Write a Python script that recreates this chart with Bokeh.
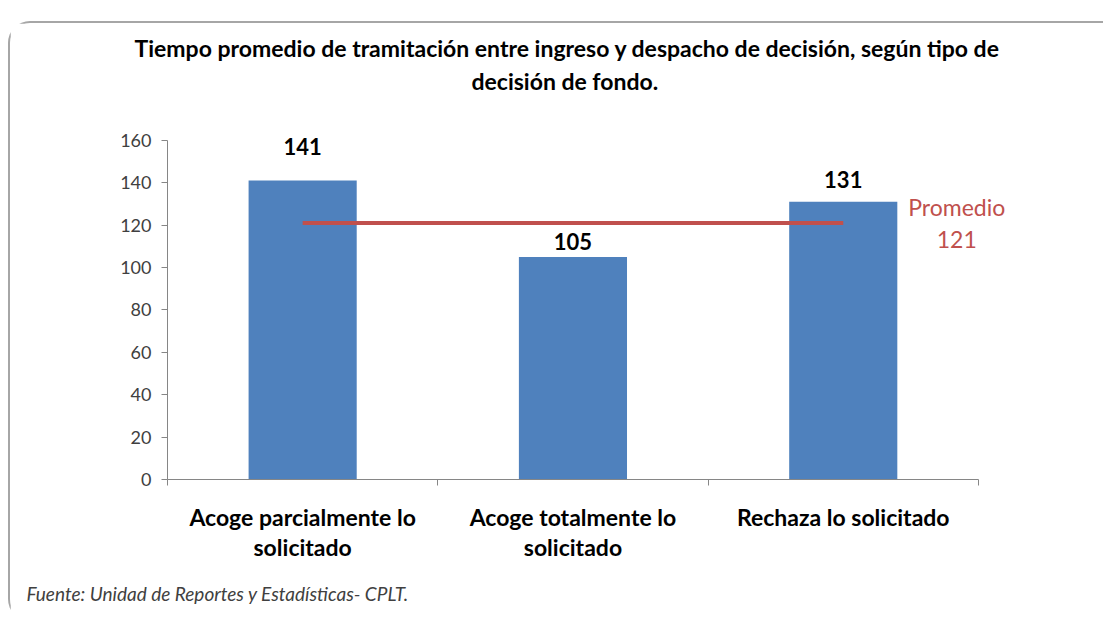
from bokeh.plotting import figure
from bokeh.models import (Label, LinearAxis, Range1d, FixedTicker, ColumnDataSource, Title)
from bokeh.embed import file_html
from bokeh.resources import INLINE

# ---- data ----
categories = ["Acoge parcialmente lo\nsolicitado", "Acoge totalmente lo\nsolicitado", "Rechaza lo solicitado"]
values = [141, 105, 131]
promedio = 121
y_ticks = [0, 20, 40, 60, 80, 100, 120, 140, 160]
title_lines = ["Tiempo promedio de tramitación entre ingreso y  despacho de decisión, según tipo de",
               "decisión de fondo."]
fuente = "Fuente: Unidad de Reportes y Estadísticas- CPLT."
promedio_label = "Promedio"

# ---- style ----
FONT = "Lato"
BAR = "#4F81BD"
RED = "#C0504D"
AXIS = "#868686"
label_offsets = [26, 7, 14]  # px above bar top, per bar

n = len(categories)
pos = list(range(1, n + 1))            # category slots
bounds = [k + 0.5 for k in range(0, n + 1)]
Y_AXIS_MAX = 160
Y_VIEW_MAX = 195.3                      # room above the axis for the 2nd title line

p = figure(width=1095, height=600,
           x_range=Range1d(0.5, n + 0.948), y_range=Range1d(0, Y_VIEW_MAX),
           output_backend="svg", toolbar_location=None,
           x_axis_location=None, y_axis_location=None,
           min_border_left=157, min_border_right=6,
           min_border_top=42, min_border_bottom=144)
p.margin = (21, 0, 0, 8)
p.styles = {"border-top": "2px solid #a6a6a6", "border-left": "2px solid #a6a6a6",
            "border-top-left-radius": "22px", "border-bottom-left-radius": "22px"}
p.outline_line_color = None
p.background_fill_color = "white"
p.border_fill_color = "white"

src = ColumnDataSource(dict(x=pos, val=values))
p.vbar(x="x", top="val", width=0.4, source=src, fill_color=BAR, line_color=None)

p.line(x=[pos[0], pos[-1]], y=[promedio, promedio], line_color=RED, line_width=4)

# y axis
yax = LinearAxis(ticker=FixedTicker(ticks=y_ticks), bounds=(0, Y_AXIS_MAX))
yax.axis_line_color = AXIS
yax.major_tick_line_color = AXIS
yax.major_tick_out = 6
yax.major_tick_in = 0
yax.minor_tick_line_color = None
yax.major_label_text_font = FONT
yax.major_label_text_font_size = "18px"
yax.major_label_text_color = "#404040"
yax.major_label_standoff = 10
p.add_layout(yax, "left")

# x axis: labels at category centres, ticks on category boundaries
cax = LinearAxis(ticker=FixedTicker(ticks=pos, minor_ticks=bounds),
                 major_label_overrides={k: c for k, c in zip(pos, categories)},
                 bounds=(bounds[0], bounds[-1]))
cax.axis_line_color = AXIS
cax.major_tick_line_color = None
cax.major_tick_out = 0
cax.major_tick_in = 0
cax.minor_tick_line_color = AXIS
cax.minor_tick_out = 6
cax.minor_tick_in = 0
cax.major_label_text_font = FONT
cax.major_label_text_font_style = "bold"
cax.major_label_text_font_size = "23px"
cax.major_label_text_line_height = 1.1
cax.major_label_text_color = "black"
cax.major_label_standoff = 17
p.add_layout(cax, "below")

p.xgrid.visible = False
p.ygrid.visible = False

# value labels
for i, (x, v) in enumerate(zip(pos, values)):
    p.add_layout(Label(x=x, y=v, y_offset=label_offsets[i] + 8, text=str(v),
                       text_align="center", text_baseline="middle",
                       text_font=FONT, text_font_style="bold",
                       text_font_size="22px", text_color="black"))

# promedio label
px = n + 0.42
p.add_layout(Label(x=px, y=promedio, y_offset=16, text=promedio_label,
                   text_align="center", text_baseline="middle",
                   text_font=FONT, text_font_size="23px", text_color=RED))
p.add_layout(Label(x=px, y=promedio, y_offset=-16, text=str(promedio),
                   text_align="center", text_baseline="middle",
                   text_font=FONT, text_font_size="23px", text_color=RED))

# title: first line above the frame, second line inside the (extended) frame
p.title = Title(text=title_lines[0], align="left", offset=-33, text_font=FONT,
                text_font_style="bold", text_font_size="23px", text_color="black",
                standoff=8)
p.add_layout(Label(x=1.97, y=187.8, text=title_lines[1],
                   text_align="center", text_baseline="middle",
                   text_font=FONT, text_font_style="bold",
                   text_font_size="23px", text_color="black"))

# footer
foot = Title(text=fuente, align="left", offset=-141, text_font=FONT,
             text_font_style="italic", text_font_size="19px", text_color="#404040",
             standoff=31)
p.add_layout(foot, "below")

open("out.html", "w").write(file_html(p, INLINE))
